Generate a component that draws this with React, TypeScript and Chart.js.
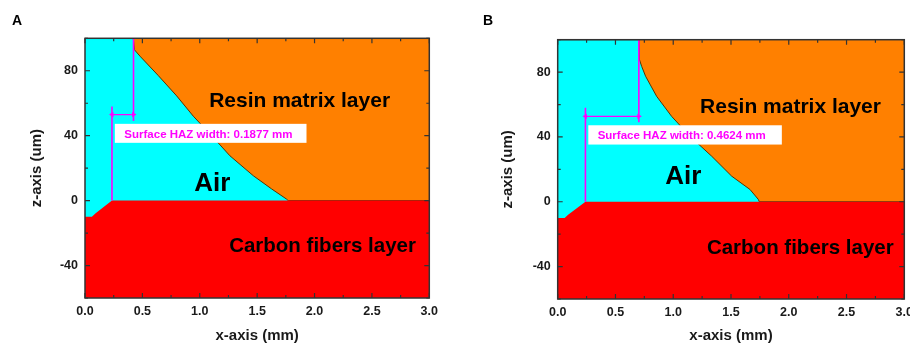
import React, { useEffect, useRef } from "react";
import { Chart, registerables } from "chart.js";

Chart.register(...registerables);

// ---------------- data ----------------
// axis tick labels
const xMajorTicks = [0, 0.5, 1.0, 1.5, 2.0, 2.5, 3.0];
const xTickLabels = ["0.0", "0.5", "1.0", "1.5", "2.0", "2.5", "3.0"];
const yMajorTicks = [-40, 0, 40, 80];
const yTickLabels = ["-40", "0", "40", "80"];

// resin matrix layer (top edge of the domain)
const resinTopX = [0, 3.0];
const resinTopZ = [100, 100];

// carbon fibre layer top (interface with air)
const carbonTopX_A = [0, 0.06, 0.09, 0.235, 3.0];
const carbonTopZ_A = [-10, -10, -8, 0, 0];
const carbonTopX_B = [0, 0.06, 0.09, 0.24, 3.0];
const carbonTopZ_B = [-10, -10, -8, 0, 0];

// air / resin front (ablation boundary)
const frontX_A = [0, 0.421, 0.43, 0.479, 0.639, 0.799, 0.944, 1.104, 1.263, 1.467, 1.626, 1.755, 1.77, 3.0];
const frontZ_A = [100, 100, 93, 89, 77, 64.5, 52, 40, 27.6, 15.3, 7.2, 1, 0, 0];
const frontX_B = [0, 0.703, 0.706, 0.727, 0.761, 0.857, 0.986, 1.145, 1.333, 1.506, 1.664, 1.736, 1.745, 3.0];
const frontZ_B = [100, 100, 88, 83.5, 77.4, 65, 52.7, 40.4, 28.1, 15.8, 7.6, 1.5, 0, 0];

// surface HAZ width markers (mm) and their z extents (um)
const hazStart_A = 0.235;
const hazWidth_A = 0.1877;
const hazStart_B = 0.24;
const hazWidth_B = 0.4624;
const hazLeftZ = [0, 58];
const hazRightZ = [100, 49];
const hazArrowZ_A = 53;
const hazArrowZ_B = 52.7;

const regionNames = ["Resin matrix layer", "Air", "Carbon fibers layer"];

// ---------------- styling ----------------
const FONT = '"Liberation Sans", Arial, Helvetica, sans-serif';
const TEXT = "#1a1a1a";
const PINK = "#ff00ff";

type Label = { text: string; x: number; z: number; size: number };
type Panel = {
  carbonX: number[];
  carbonZ: number[];
  frontX: number[];
  frontZ: number[];
  hazStart: number;
  hazWidth: number;
  hazArrowZ: number;
  box: [number, number, number, number];
  boxTextAt: [number, number];
  labels: Label[];
  canvasLeft: number;
  canvasWidth: number;
  yAxisWidth: number;
  yTitlePad: number;
  xAxisHeight: number;
  padTop: number;
  padRight: number;
};

const panelA: Panel = {
  carbonX: carbonTopX_A,
  carbonZ: carbonTopZ_A,
  frontX: frontX_A,
  frontZ: frontZ_A,
  hazStart: hazStart_A,
  hazWidth: hazWidth_A,
  hazArrowZ: hazArrowZ_A,
  box: [0.26, 1.93, 47.3, 35.6],
  boxTextAt: [0.343, 38.7],
  labels: [
    { text: regionNames[0], x: 1.87, z: 57.4, size: 21 },
    { text: regionNames[1], x: 1.11, z: 5.7, size: 26 },
    { text: regionNames[2], x: 2.07, z: -31.9, size: 20.5 },
  ],
  canvasLeft: 0,
  canvasWidth: 455,
  yAxisWidth: 85,
  yTitlePad: 28,
  xAxisHeight: 47,
  padTop: 38.3,
  padRight: 455 - 429.3,
};

const panelB: Panel = {
  carbonX: carbonTopX_B,
  carbonZ: carbonTopZ_B,
  frontX: frontX_B,
  frontZ: frontZ_B,
  hazStart: hazStart_B,
  hazWidth: hazWidth_B,
  hazArrowZ: hazArrowZ_B,
  box: [0.265, 1.94, 47.2, 35.3],
  boxTextAt: [0.346, 38.6],
  labels: [
    { text: regionNames[0], x: 2.015, z: 55, size: 21 },
    { text: regionNames[1], x: 1.087, z: 10.7, size: 26 },
    { text: regionNames[2], x: 2.1, z: -32.2, size: 20.5 },
  ],
  canvasLeft: 455,
  canvasWidth: 480,
  yAxisWidth: 102.7,
  yTitlePad: 44,
  xAxisHeight: 46,
  padTop: 39.7,
  padRight: 480 - 449.3,
};

const zip = (xs: number[], ys: number[]) => xs.map((x, i) => ({ x, y: ys[i] }));

const isMajor = (list: number[], v: number) => list.some((m) => Math.abs(m - v) < 1e-6);

function PanelChart({ p, title }: { p: Panel; title: string }) {
  const ref = useRef<HTMLCanvasElement | null>(null);

  useEffect(() => {
    if (!ref.current) return;
    const hazEnd = p.hazStart + p.hazWidth;

    const overlay = {
      id: "overlay",
      afterDatasetsDraw(chart: any) {
        const { ctx, chartArea: a, scales } = chart;
        const xs = scales.x;
        const ys = scales.y;
        ctx.save();
        // HAZ label box
        const bx0 = xs.getPixelForValue(p.box[0]);
        const bx1 = xs.getPixelForValue(p.box[1]);
        const by0 = ys.getPixelForValue(p.box[2]);
        const by1 = ys.getPixelForValue(p.box[3]);
        ctx.fillStyle = "#ffffff";
        ctx.fillRect(bx0, by0, bx1 - bx0, by1 - by0);
        ctx.fillStyle = PINK;
        ctx.font = `bold 11.5px ${FONT}`;
        ctx.textAlign = "left";
        ctx.textBaseline = "alphabetic";
        ctx.fillText(
          `Surface HAZ width: ${p.hazWidth.toFixed(4)} mm`,
          xs.getPixelForValue(p.boxTextAt[0]),
          ys.getPixelForValue(p.boxTextAt[1])
        );
        // region labels
        ctx.fillStyle = "#000000";
        ctx.textAlign = "center";
        for (const l of p.labels) {
          ctx.font = `bold ${l.size}px ${FONT}`;
          ctx.fillText(l.text, xs.getPixelForValue(l.x), ys.getPixelForValue(l.z));
        }
        // frame
        ctx.strokeStyle = "#333333";
        ctx.lineWidth = 1.5;
        ctx.strokeRect(a.left, a.top, a.right - a.left, a.bottom - a.top);
        // inward ticks on all four sides
        ctx.lineWidth = 1.2;
        ctx.beginPath();
        for (const t of xs.ticks) {
          const px = xs.getPixelForValue(t.value);
          const len = isMajor(xMajorTicks, t.value) ? 5 : 3;
          ctx.moveTo(px, a.bottom);
          ctx.lineTo(px, a.bottom - len);
          ctx.moveTo(px, a.top);
          ctx.lineTo(px, a.top + len);
        }
        for (const t of ys.ticks) {
          const py = ys.getPixelForValue(t.value);
          const len = isMajor(yMajorTicks, t.value) ? 5 : 3;
          ctx.moveTo(a.left, py);
          ctx.lineTo(a.left + len, py);
          ctx.moveTo(a.right, py);
          ctx.lineTo(a.right - len, py);
        }
        ctx.stroke();
        ctx.restore();
      },
    };

    const chart = new Chart(ref.current, {
      type: "line",
      data: {
        datasets: [
          {
            data: [
              { x: p.hazStart, y: p.hazArrowZ },
              { x: hazEnd, y: p.hazArrowZ },
            ],
            borderColor: PINK,
            borderWidth: 1.3,
            pointStyle: "triangle",
            pointRadius: 3,
            pointRotation: [-90, 90],
            pointBackgroundColor: PINK,
            pointBorderColor: PINK,
            pointBorderWidth: 0,
            fill: false,
            order: 0,
          },
          {
            data: zip([p.hazStart, p.hazStart], hazLeftZ),
            borderColor: PINK,
            borderWidth: 1.6,
            pointRadius: 0,
            fill: false,
            order: 1,
          },
          {
            data: zip([hazEnd, hazEnd], hazRightZ),
            borderColor: PINK,
            borderWidth: 1.6,
            pointRadius: 0,
            fill: false,
            order: 2,
          },
          {
            data: zip(p.carbonX, p.carbonZ),
            borderWidth: 0,
            borderColor: "rgba(0,0,0,0)",
            backgroundColor: "#ff0000",
            pointRadius: 0,
            fill: "start",
            order: 5,
          },
          {
            data: zip(p.frontX, p.frontZ),
            borderWidth: 1,
            borderColor: "#5a3300",
            backgroundColor: "#00ffff",
            pointRadius: 0,
            fill: "start",
            order: 6,
          },
          {
            data: zip(resinTopX, resinTopZ),
            borderWidth: 0,
            borderColor: "rgba(0,0,0,0)",
            backgroundColor: "#ff8000",
            pointRadius: 0,
            fill: "start",
            order: 7,
          },
        ],
      } as any,
      options: {
        animation: false,
        responsive: false,
        devicePixelRatio: 1,
        events: [],
        layout: { padding: { left: 0, top: p.padTop, right: p.padRight, bottom: 0 } },
        plugins: { legend: { display: false }, tooltip: { enabled: false } },
        elements: { line: { tension: 0 } },
        scales: {
          x: {
            type: "linear",
            min: 0,
            max: 3,
            grid: { display: false, drawTicks: false },
            border: { display: false },
            ticks: {
              stepSize: 0.25,
              autoSkip: false,
              maxRotation: 0,
              padding: 6,
              color: TEXT,
              font: { family: FONT, size: 12.5, weight: "bold" },
              callback: (v: any) => {
                const i = xMajorTicks.findIndex((m) => Math.abs(m - Number(v)) < 1e-6);
                return i >= 0 ? xTickLabels[i] : "";
              },
            },
            title: {
              display: true,
              text: "x-axis (mm)",
              color: TEXT,
              font: { family: FONT, size: 15, weight: "bold" },
              padding: { top: 0, bottom: 0 },
            },
            afterFit: (s: any) => {
              s.height = p.xAxisHeight;
            },
          },
          y: {
            type: "linear",
            min: -60,
            max: 100,
            grid: { display: false, drawTicks: false },
            border: { display: false },
            ticks: {
              stepSize: 20,
              autoSkip: false,
              padding: 7,
              color: TEXT,
              font: { family: FONT, size: 12.5, weight: "bold" },
              callback: (v: any) => {
                const i = yMajorTicks.findIndex((m) => Math.abs(m - Number(v)) < 1e-6);
                return i >= 0 ? yTickLabels[i] : "";
              },
            },
            title: {
              display: true,
              text: "z-axis (um)",
              color: TEXT,
              font: { family: FONT, size: 15, weight: "bold" },
              padding: { top: p.yTitlePad, bottom: 0 },
            },
            afterFit: (s: any) => {
              s.width = p.yAxisWidth;
            },
          },
        },
      } as any,
      plugins: [overlay],
    });
    return () => chart.destroy();
  }, [p]);

  return (
    <>
      <canvas
        ref={ref}
        width={p.canvasWidth}
        height={345}
        style={{ position: "absolute", left: p.canvasLeft, top: 0, width: p.canvasWidth, height: 345 }}
      />
      <div
        style={{
          position: "absolute",
          left: p.canvasLeft + (title === "A" ? 12 : 28),
          top: 13,
          font: `bold 14px ${FONT}`,
          lineHeight: "14px",
          color: "#000",
        }}
      >
        {title}
      </div>
    </>
  );
}

export default function App() {
  return (
    <div
      style={{
        position: "absolute",
        left: 0,
        top: 0,
        width: 910,
        height: 345,
        overflow: "hidden",
        background: "#ffffff",
      }}
    >
      <PanelChart p={panelA} title="A" />
      <PanelChart p={panelB} title="B" />
    </div>
  );
}
